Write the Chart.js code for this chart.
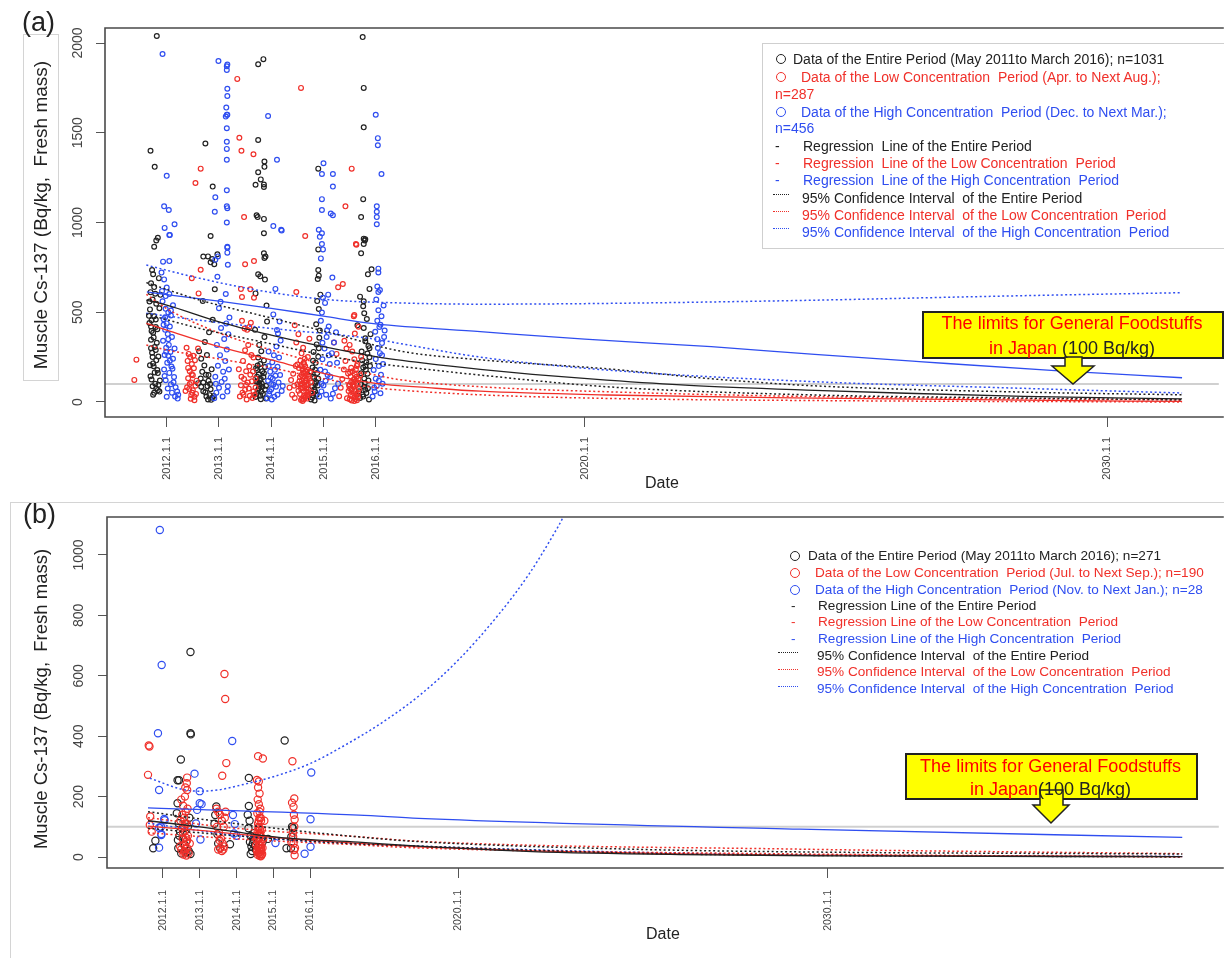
<!DOCTYPE html>
<html>
<head>
<meta charset="utf-8">
<title>Muscle Cs-137</title>
<script src="https://cdn.jsdelivr.net/npm/chart.js@4.4.1/dist/chart.umd.min.js"></script>
<style>
  body { margin:0; width:1224px; height:958px; overflow:hidden; background:#fff; position:relative;
         font-family:"Liberation Sans", Arial, sans-serif; color:#222; }
  .abs { position:absolute; white-space:pre; }
  canvas { position:absolute; left:0; }
  #chartA { top:0; }
  #chartB { top:490px; }
  .tag { font-size:27px; line-height:27px; }
  .ytitle { transform:translate(-50%,-50%) rotate(-90deg); line-height:20px; }
  .circ { width:8px; height:8px; border:1.3px solid; border-radius:50%; }
  .dot { height:0; border-top:1px dotted; }
  .la { font-size:14px; line-height:16px; }
  .lb { font-size:13.6px; line-height:16px; }
  .red { color:#f0302a; }
  .blue { color:#2f4ef0; }
  .callout { background:#ffff00; border:2px solid #222; box-sizing:border-box; }
  .ctext { font-size:18px; line-height:20px; text-align:center; color:#f00; }
  .ctext b { font-weight:normal; color:#222; }
</style>
</head>
<body>

<!-- frames that sit behind the charts -->
<div class="abs" style="left:23px;top:34px;width:34px;height:345px;border:1px solid #d4d4d4"></div>
<div class="abs" style="left:10px;top:502px;width:1230px;height:470px;border:1px solid #d4d4d4"></div>

<canvas id="chartA" width="1224" height="500"></canvas>
<canvas id="chartB" width="1224" height="468"></canvas>

<div class="abs tag" style="left:22px;top:9px">(a)</div>
<div class="abs tag" style="left:23px;top:501px">(b)</div>
<div class="abs ytitle" style="left:41px;top:215px;font-size:19px">Muscle Cs-137 (Bq/kg,  Fresh mass)</div>
<div class="abs ytitle" style="left:41px;top:699px;font-size:18.5px">Muscle Cs-137 (Bq/kg,  Fresh mass)</div>

<!-- legend (a) -->
<div class="abs" style="left:762px;top:43px;width:470px;height:204px;border:1px solid #cfcfcf"></div>
<span class="abs circ" style="left:776px;top:54px;border-color:#222"></span>
<div class="abs la" style="left:793px;top:51px">Data of the Entire Period (May 2011to March 2016); n=1031</div>
<span class="abs circ" style="left:776px;top:72px;border-color:#f0302a"></span>
<div class="abs la red" style="left:801px;top:69px">Data of the Low Concentration  Period (Apr. to Next Aug.);</div>
<div class="abs la red" style="left:775px;top:86px">n=287</div>
<span class="abs circ" style="left:776px;top:107px;border-color:#2f4ef0"></span>
<div class="abs la blue" style="left:801px;top:104px">Data of the High Concentration  Period (Dec. to Next Mar.);</div>
<div class="abs la blue" style="left:775px;top:120px">n=456</div>
<div class="abs la" style="left:775px;top:138px">-</div>
<div class="abs la" style="left:803px;top:138px">Regression  Line of the Entire Period</div>
<div class="abs la red" style="left:775px;top:155px">-</div>
<div class="abs la red" style="left:803px;top:155px">Regression  Line of the Low Concentration  Period</div>
<div class="abs la blue" style="left:775px;top:172px">-</div>
<div class="abs la blue" style="left:803px;top:172px">Regression  Line of the High Concentration  Period</div>
<span class="abs dot" style="left:773px;top:194px;width:16px;border-color:#222"></span>
<div class="abs la" style="left:802px;top:190px">95% Confidence Interval  of the Entire Period</div>
<span class="abs dot" style="left:773px;top:211px;width:16px;border-color:#f0302a"></span>
<div class="abs la red" style="left:802px;top:207px">95% Confidence Interval  of the Low Concentration  Period</div>
<span class="abs dot" style="left:773px;top:228px;width:16px;border-color:#2f4ef0"></span>
<div class="abs la blue" style="left:802px;top:224px">95% Confidence Interval  of the High Concentration  Period</div>

<!-- legend (b) -->
<span class="abs circ" style="left:790px;top:551px;border-color:#222"></span>
<div class="abs lb" style="left:808px;top:548px">Data of the Entire Period (May 2011to March 2016); n=271</div>
<span class="abs circ" style="left:790px;top:568px;border-color:#f0302a"></span>
<div class="abs lb red" style="left:815px;top:565px">Data of the Low Concentration  Period (Jul. to Next Sep.); n=190</div>
<span class="abs circ" style="left:790px;top:585px;border-color:#2f4ef0"></span>
<div class="abs lb blue" style="left:815px;top:582px">Data of the High Concentration  Period (Nov. to Next Jan.); n=28</div>
<div class="abs lb" style="left:791px;top:598px">-</div>
<div class="abs lb" style="left:818px;top:598px">Regression Line of the Entire Period</div>
<div class="abs lb red" style="left:791px;top:614px">-</div>
<div class="abs lb red" style="left:818px;top:614px">Regression Line of the Low Concentration  Period</div>
<div class="abs lb blue" style="left:791px;top:631px">-</div>
<div class="abs lb blue" style="left:818px;top:631px">Regression Line of the High Concentration  Period</div>
<span class="abs dot" style="left:778px;top:652px;width:20px;border-color:#222"></span>
<div class="abs lb" style="left:817px;top:648px">95% Confidence Interval  of the Entire Period</div>
<span class="abs dot" style="left:778px;top:669px;width:20px;border-color:#f0302a"></span>
<div class="abs lb red" style="left:817px;top:664px">95% Confidence Interval  of the Low Concentration  Period</div>
<span class="abs dot" style="left:778px;top:686px;width:20px;border-color:#2f4ef0"></span>
<div class="abs lb blue" style="left:817px;top:681px">95% Confidence Interval  of the High Concentration  Period</div>

<!-- callouts -->
<div class="abs callout" style="left:922px;top:311px;width:302px;height:48px"></div>
<div class="abs callout" style="left:905px;top:753px;width:293px;height:47px"></div>
<svg class="abs" style="left:0;top:0" width="1224" height="958">
  <polygon points="1065,357 1082,357 1082,366 1094,366 1073,384 1052,366 1065,366" fill="#ffff00" stroke="#222" stroke-width="1.5"/>
  <polygon points="1040,790 1063,790 1063,805 1069,805 1051,823 1033,805 1040,805" fill="#ffff00" stroke="#222" stroke-width="1.5"/>
</svg>
<div class="abs ctext" style="left:922px;top:313px;width:300px">The limits for General Foodstuffs</div>
<div class="abs ctext" style="left:922px;top:338px;width:300px">in Japan <b>(100 Bq/kg)</b></div>
<div class="abs ctext" style="left:905px;top:756px;width:291px">The limits for General Foodstuffs</div>
<div class="abs ctext" style="left:905px;top:779px;width:291px">in Japan<b>(100 Bq/kg)</b></div>

<script>
const FONT = '"Liberation Sans", Arial, sans-serif';
const BLACK = '#222222';
const RED = '#f0302a';
const BLUE = '#2f4ef0';

// axis ticks
const tickYears = [2012, 2013, 2014, 2015, 2016, 2020, 2030];
const yTicksA = [0, 500, 1000, 1500, 2000];
const yTicksB = [0, 200, 400, 600, 800, 1000];
const limitValue = 100;

// ---------- panel (a): [decimal year, Bq/kg] ----------
const aEntirePts = [
  [2011.81,2039],[2013.75,1882],[2013.85,1910],[2015.75,2033],[2015.77,1750],[2015.77,1530],[2013.75,1460],[2012.74,1440],
  [2011.69,1400],[2013.87,1340],[2013.87,1310],[2011.77,1310],[2014.9,1300],[2013.75,1280],[2013.8,1240],[2013.7,1210],
  [2013.86,1212],[2013.86,1198],[2012.88,1200],[2015.76,1130],[2013.72,1040],[2013.74,1030],[2013.86,1020],[2015.72,1030],
  [2012.84,925],[2013.86,940],[2011.83,915],[2011.8,900],[2011.76,865],[2015.77,910],[2015.79,900],[2015.77,880],[2014.9,850],
  [2012.7,810],[2012.79,811],[2012.84,778],[2012.87,797],[2012.91,767],[2012.97,823],[2013.86,828],[2013.89,810],[2013.87,802],
  [2013.75,711],[2013.79,700],[2013.88,682],[2013.7,605],[2013.91,537],[2014.9,735],[2014.91,704],[2014.89,685],[2015.72,828],
  [2015.8,906],[2015.85,711],[2015.92,739],[2015.88,630],[2015.7,587],[2015.77,561],[2015.76,533],[2015.78,494],[2015.65,427],
  [2015.8,355],
  [2011.72,735],[2011.74,712],[2011.7,661],[2011.78,603],[2011.73,571],[2011.8,548],[2011.68,516],[2011.76,478],[2011.71,455],
  [2011.79,418],[2011.74,386],[2011.7,347],[2011.77,306],[2011.72,274],[2011.8,232],[2011.75,199],[2011.69,143],[2011.78,102],
  [2011.73,88],[2011.83,66],[2011.76,51],[2011.82,178],[2011.86,522],[2011.88,597],[2011.71,396],[2011.84,253],[2011.69,612],
  [2011.83,161],[2011.67,440],[2011.81,330],[2011.74,215],[2011.87,120],
  [2011.66,480],[2011.7,420],[2011.75,360],[2011.79,290],[2011.73,250],[2011.68,205],[2011.77,165],[2011.71,125],[2011.84,95],
  [2011.8,75],[2011.74,40],[2011.86,58],[2011.7,300],[2011.82,405],[2011.67,560],[2011.76,640],[2011.85,690],[2011.79,460],
  [2012.62,283],[2012.66,241],[2012.72,203],[2012.68,168],[2012.75,152],[2012.8,118],[2012.7,109],[2012.78,88],[2012.84,71],
  [2012.74,54],[2012.82,38],[2012.87,24],[2012.79,14],[2012.9,33],[2012.65,131],[2012.86,182],[2012.77,262],[2012.73,334],
  [2012.81,388],[2012.88,458],[2012.69,563],[2012.92,628],[2012.6,105],[2012.85,12],
  [2012.7,60],[2012.76,30],[2012.83,100],[2012.66,85],[2012.8,150],
  [2013.7,28],[2013.74,62],[2013.78,91],[2013.72,113],[2013.8,128],[2013.76,153],[2013.83,171],[2013.71,188],[2013.79,212],
  [2013.86,231],[2013.75,248],[2013.82,101],[2013.88,69],[2013.84,44],[2013.9,19],[2013.73,178],[2013.81,283],[2013.77,318],
  [2013.87,362],[2013.69,402],[2013.92,448],[2013.85,139],[2013.78,121],[2013.74,203],[2013.8,15],[2013.76,75],
  [2013.72,45],[2013.77,100],[2013.83,85],[2013.86,160],[2013.79,35],[2013.73,140],[2013.88,195],[2013.81,58],[2013.75,112],
  [2013.9,90],
  [2014.76,14],[2014.8,36],[2014.84,58],[2014.78,86],[2014.86,112],[2014.82,133],[2014.88,161],[2014.79,192],[2014.85,218],
  [2014.9,252],[2014.81,279],[2014.87,321],[2014.92,358],[2014.77,47],[2014.83,9],[2014.89,92],[2014.93,398],[2014.86,433],
  [2014.91,518],[2014.88,562],[2014.94,598],[2014.84,180],[2014.8,140],
  [2014.78,25],[2014.82,70],[2014.87,40],[2014.84,100],[2014.9,130],[2014.8,230],[2014.76,170],[2014.91,300],
  [2015.7,22],[2015.75,41],[2015.8,68],[2015.72,99],[2015.78,131],[2015.84,158],[2015.76,192],[2015.82,221],[2015.88,249],
  [2015.73,281],[2015.86,312],[2015.8,338],[2015.9,378],[2015.77,412],[2015.83,462],[2015.87,14],[2015.79,106],[2015.85,77],
  [2015.74,232],[2015.81,179],[2015.68,60],[2015.89,200],
  [2015.76,30],[2015.82,50],[2015.86,120],[2015.78,85],[2015.84,270],[2015.88,300],[2015.72,160],[2015.8,200]
];

const aLowPts = [
  [2013.35,1800],[2014.57,1750],[2013.39,1472],[2013.43,1400],[2013.66,1380],[2012.65,1300],[2012.55,1220],[2015.54,1300],
  [2015.42,1090],[2013.48,1030],[2014.65,925],[2015.62,880],[2012.48,689],[2012.61,605],[2013.5,767],[2013.67,785],
  [2012.65,737],[2013.67,581],[2013.42,630],[2013.6,628],[2013.44,585],[2014.48,613],[2015.28,639],[2015.37,657],
  [2015.63,876],[2015.59,485],[2011.42,236],[2011.38,123],
  [2012.38,302],[2012.42,268],[2012.45,251],[2012.4,229],[2012.48,212],[2012.52,188],[2012.44,171],[2012.5,149],[2012.41,132],
  [2012.47,108],[2012.55,91],[2012.43,72],[2012.49,51],[2012.53,29],[2012.46,18],[2012.39,82],[2012.51,258],[2012.57,119],
  [2012.6,298],[2012.36,61],[2012.54,233],[2012.47,39],
  [2012.44,100],[2012.5,65],[2012.56,45],[2012.41,190],[2012.48,155],[2012.53,10],
  [2013.4,31],[2013.45,52],[2013.5,68],[2013.42,93],[2013.55,109],[2013.48,128],[2013.6,152],[2013.52,171],[2013.58,198],
  [2013.46,229],[2013.62,262],[2013.5,288],[2013.56,318],[2013.64,22],[2013.68,41],[2013.66,59],[2013.7,81],[2013.54,402],
  [2013.58,418],[2013.61,441],[2013.49,409],[2013.44,452],[2013.66,248],[2013.38,182],[2013.7,131],[2013.53,14],
  [2013.47,40],[2013.52,95],[2013.57,75],[2013.63,115],[2013.59,35],[2013.65,170],[2013.43,140],
  [2014.35,80],[2014.38,122],[2014.4,41],[2014.42,158],[2014.45,22],[2014.47,201],[2014.5,99],[2014.52,62],[2014.55,139],
  [2014.57,11],[2014.6,181],[2014.62,219],[2014.64,88],[2014.66,31],[2014.68,129],[2014.7,251],[2014.72,72],[2014.74,168],
  [2014.76,109],[2014.78,52],[2014.58,271],[2014.61,302],[2014.63,161],[2014.65,199],[2014.67,58],[2014.59,102],[2014.69,19],
  [2014.56,231],[2014.71,141],[2014.53,189],[2014.62,14],[2014.66,118],[2014.6,79],[2014.64,241],[2014.7,39],[2014.58,151],
  [2014.48,332],[2014.52,378],[2014.45,428],[2014.73,352],[2014.44,91],[2014.5,209],
  [2014.55,45],[2014.57,75],[2014.59,120],[2014.61,165],[2014.63,210],[2014.65,25],[2014.67,95],[2014.69,180],[2014.71,55],
  [2014.73,130],[2014.6,5],[2014.62,60],[2014.64,110],[2014.66,150],[2014.68,40],[2014.58,200],[2014.56,90],[2014.7,100],
  [2014.63,35],[2014.61,140],[2014.59,18],[2014.67,75],[2014.65,170],[2014.54,115],
  [2015.3,32],[2015.33,79],[2015.36,128],[2015.39,181],[2015.42,229],[2015.45,21],[2015.48,61],[2015.5,98],[2015.52,142],
  [2015.54,9],[2015.56,171],[2015.58,49],[2015.6,91],[2015.62,119],[2015.64,201],[2015.66,28],[2015.68,72],[2015.7,148],
  [2015.72,252],[2015.55,281],[2015.5,318],[2015.57,111],[2015.61,16],[2015.53,191],[2015.59,238],[2015.47,159],[2015.63,42],
  [2015.51,74],[2015.65,102],[2015.44,298],[2015.6,381],[2015.4,341],[2015.67,419],[2015.58,478],[2015.25,268],[2015.2,331],
  [2015.5,15],[2015.52,40],[2015.54,70],[2015.56,95],[2015.58,125],[2015.6,155],[2015.62,180],[2015.64,10],[2015.66,50],
  [2015.55,35],[2015.57,85],[2015.59,5],[2015.61,60],[2015.63,140],[2015.53,110],[2015.51,165],[2015.65,210],[2015.67,130],
  [2015.49,90],[2015.6,25]
];

const aHighPts = [
  [2011.92,1939],[2012.99,1900],[2013.16,1880],[2013.15,1870],[2013.15,1850],[2013.16,1745],[2013.16,1705],[2013.14,1640],
  [2013.13,1590],[2013.15,1600],[2013.16,1600],[2013.94,1593],[2016.0,1600],[2013.15,1525],[2016.04,1470],[2016.04,1430],
  [2013.15,1450],[2013.15,1410],[2013.15,1350],[2014.11,1350],[2012.0,1260],[2015.0,1330],[2014.97,1270],[2015.18,1270],
  [2016.11,1270],[2013.15,1180],[2015.18,1200],[2012.93,1140],[2014.97,1130],[2013.15,1090],[2013.16,1080],[2016.02,1090],
  [2016.02,1060],[2016.02,1030],[2011.95,1090],[2012.04,1070],[2012.92,1060],[2014.97,1070],[2015.14,1050],[2015.18,1040],
  [2016.02,990],[2013.15,1000],[2012.15,990],[2011.96,970],[2012.05,930],[2014.04,980],[2014.19,960],[2014.91,960],
  [2014.97,940],[2014.97,880],[2013.16,860],[2012.06,930],
  [2011.93,782],[2012.05,785],[2012.93,792],[2012.98,811],[2013.16,832],[2013.16,865],[2013.17,765],[2014.2,955],[2014.08,630],
  [2014.95,800],[2014.99,850],[2014.93,920],[2015.17,693],[2016.05,743],[2016.05,722],[2016.03,643],[2016.05,613],[2016.08,624],
  [2011.9,721],[2011.95,683],[2012.0,638],[2012.05,602],[2011.92,561],[2011.98,519],[2012.03,498],[2012.08,482],[2011.94,461],
  [2012.0,438],[2012.06,421],[2011.97,402],[2012.02,379],[2012.1,362],[2011.93,341],[2012.04,318],[2011.99,302],[2012.07,279],
  [2011.96,262],[2012.12,241],[2012.01,219],[2012.09,198],[2011.95,181],[2012.05,162],[2012.14,139],[2011.98,121],[2012.08,99],
  [2012.17,82],[2012.2,58],[2012.22,41],[2012.21,19],[2012.1,52],[2012.0,29],[2011.91,618],[2012.12,539],[2012.03,258],
  [2012.15,298],[2011.97,472],
  [2011.94,430],[2012.03,350],[2011.99,280],[2012.06,230],[2012.11,185],[2011.96,145],[2012.13,110],[2012.02,75],[2012.16,30],
  [2011.98,590],[2012.08,510],
  [2012.91,21],[2012.95,52],[2013.0,79],[2013.05,112],[2012.93,141],[2013.08,169],[2012.98,202],[2013.12,228],[2013.02,261],
  [2013.15,292],[2012.96,318],[2013.1,351],[2013.18,378],[2013.04,412],[2013.14,438],[2013.2,471],[2013.07,31],[2013.16,58],
  [2012.94,101],[2013.11,129],[2013.19,181],[2013.0,522],[2013.03,558],[2013.13,602],[2013.17,88],[2012.97,698],
  [2013.92,21],[2013.96,44],[2014.0,71],[2014.04,96],[2013.94,118],[2014.08,146],[2013.98,169],[2014.12,196],[2014.02,222],
  [2014.15,248],[2013.95,281],[2014.1,309],[2014.18,342],[2014.06,29],[2014.2,61],[2014.14,108],[2013.99,136],[2014.07,179],
  [2014.22,89],[2014.01,14],[2014.11,401],[2014.16,449],[2014.04,488],[2014.13,382],
  [2013.97,60],[2014.03,130],[2014.09,85],[2013.95,200],[2014.12,40],[2014.05,260],[2014.17,150],[2014.0,100],
  [2014.92,31],[2014.96,59],[2015.0,92],[2015.04,118],[2015.08,151],[2014.94,179],[2015.12,211],[2014.98,238],[2015.16,272],
  [2015.02,298],[2015.2,331],[2015.06,362],[2015.24,388],[2015.1,421],[2014.95,452],[2015.14,19],[2015.18,46],[2015.22,76],
  [2015.28,101],[2015.26,219],[2014.97,498],[2015.03,552],[2015.09,598],[2014.99,581],
  [2014.96,100],[2015.03,170],[2015.1,260],[2015.05,40],[2014.98,330],[2015.13,140],[2015.07,400],
  [2015.94,31],[2015.98,59],[2016.02,91],[2016.06,118],[2016.1,152],[2015.96,178],[2016.14,211],[2016.0,239],[2016.08,272],
  [2016.04,301],[2016.12,328],[2016.16,362],[2015.99,391],[2016.07,418],[2016.03,452],[2016.11,478],[2016.05,511],[2016.15,538],
  [2016.01,571],[2016.09,49],[2016.13,102],[2016.17,398],
  [2016.0,130],[2016.06,200],[2016.12,260],[2016.03,350],[2016.09,430],[2015.97,80]
];

// regression lines and 95% CI
const aEntireFit   = [[2011.61,568],[2012,540],[2013,447],[2014,373],[2015,308],[2016,253],[2017,214],[2018,182],[2019,154],[2020.42,122],[2022,93],[2024.4,65],[2026,50],[2028.4,31],[2031.43,17]];
const aEntireUpper = [[2011.61,665],[2012.63,568],[2013.9,475],[2015.17,383],[2016.44,285],[2018,235],[2020.42,185],[2022.4,130],[2024.4,90],[2028.4,55],[2031.43,40]];
const aEntireLower = [[2011.61,490],[2012.63,410],[2013.9,330],[2014.53,290],[2015.5,235],[2016.44,200],[2018,150],[2020.42,85],[2024.4,39],[2028.4,22],[2031.43,12]];
const aLowFit      = [[2011.61,438],[2012,401],[2013,308],[2014,234],[2015,160],[2016,104],[2017,80],[2018,60],[2020.42,39],[2024.4,22],[2028.4,10],[2031.43,3]];
const aLowUpper    = [[2011.61,600],[2012,520],[2013,385],[2014,290],[2015,210],[2016,150],[2016.44,125],[2018,85],[2020.42,57],[2024.4,30],[2031.43,11]];
const aLowLower    = [[2011.61,318],[2012,290],[2013,240],[2014,190],[2015,130],[2016,80],[2016.44,67],[2018,40],[2020.42,20],[2024.4,8],[2031.43,0]];
const aHighFit     = [[2011.62,613],[2012,598],[2013,562],[2014,522],[2015,478],[2016,435],[2018,392],[2020,350],[2022.42,308],[2024.4,265],[2026.4,225],[2029,175],[2031.43,135]];
const aHighUpper   = [[2011.61,763],[2012.63,689],[2013.9,615],[2015.17,568],[2016.44,552],[2018,545],[2020,548],[2024,565],[2028,590],[2031.43,609]];
const aHighLower   = [[2011.61,495],[2012.5,460],[2014,410],[2016,350],[2016.44,327],[2018,250],[2020.42,178],[2024.4,113],[2028.4,76],[2031.43,50]];

// ---------- panel (b) ----------
const bEntirePts = [
  [2012.75,679],[2012.75,410],[2012.76,406],[2012.49,323],[2012.4,254],[2012.44,254],[2014.33,262],[2015.3,386],
  [2011.8,54],[2011.74,29],[2012.4,178],[2012.38,145],[2012.43,112],[2012.47,84],[2012.41,56],[2012.42,29],[2012.5,12],
  [2012.55,60],[2012.6,40],[2012.7,20],[2012.75,10],[2012.68,100],[2012.72,130],[2013.45,167],[2013.42,139],[2013.4,110],
  [2013.48,75],[2013.5,45],[2013.55,30],[2013.82,42],[2014.33,169],[2014.3,140],[2014.35,120],[2014.32,95],[2014.38,70],
  [2014.36,50],[2014.4,35],[2014.42,20],[2014.45,60],[2014.48,80],[2014.5,40],[2014.52,25],[2015.47,29],[2015.5,100],
  [2015.48,67],[2015.35,29],[2015.52,95],[2014.7,50],[2014.85,60],
  [2014.38,10],[2014.44,45],[2012.45,70],[2012.64,15]
];
const bLowPts = [
  [2011.62,369],[2011.64,366],[2011.6,272],[2011.66,134],[2011.65,106],[2011.7,84],[2012.66,263],[2012.65,244],[2012.66,222],
  [2012.6,200],[2013.69,523],[2013.67,606],[2013.72,311],[2013.61,269],[2014.58,334],[2014.71,326],[2015.51,317],[2015.56,194],
  [2015.5,180],[2015.54,166],[2015.57,124],[2015.56,100],[2015.53,67],[2015.54,45],[2015.56,23],[2015.57,6],[2015.52,80],
  [2015.55,140],[2015.48,50],[2015.58,30],
  [2012.5,190],[2012.55,170],[2012.62,150],[2012.58,130],[2012.65,110],[2012.52,95],[2012.6,85],[2012.68,70],[2012.54,60],
  [2012.63,50],[2012.57,40],[2012.66,30],[2012.5,25],[2012.6,18],[2012.7,12],[2012.56,8],[2012.64,5],[2012.47,35],[2012.73,45],
  [2012.62,65],[2012.58,100],[2012.53,140],[2012.67,160],[2012.48,120],[2012.61,230],
  [2012.58,15],[2012.62,28],[2012.66,55],[2012.55,80],[2012.6,110],
  [2013.45,160],[2013.5,150],[2013.55,140],[2013.6,120],[2013.65,100],[2013.52,80],[2013.58,60],[2013.62,45],[2013.56,30],
  [2013.5,25],[2013.6,20],[2013.66,35],[2013.7,150],[2013.68,130],[2013.47,100],[2013.54,55],[2013.64,25],
  [2014.55,255],[2014.6,250],[2014.58,230],[2014.62,210],[2014.57,190],[2014.6,175],[2014.64,160],[2014.56,145],[2014.62,130],
  [2014.66,120],[2014.58,110],[2014.6,100],[2014.63,92],[2014.57,85],[2014.61,78],[2014.65,70],[2014.59,63],[2014.55,56],
  [2014.62,50],[2014.67,44],[2014.6,38],[2014.58,32],[2014.64,27],[2014.61,22],[2014.66,18],[2014.6,14],[2014.63,10],
  [2014.57,7],[2014.62,4],[2014.65,2],[2014.7,30],[2014.72,60],[2014.68,90],[2014.53,40],[2014.5,70],[2014.75,120],
  [2014.65,130],[2014.55,20],[2014.69,10],
  [2014.56,65],[2014.64,80],[2014.6,120],[2014.66,30],[2014.58,15],[2014.62,150],[2014.6,60],[2014.67,5],[2014.63,40],
  [2014.59,95]
];
const bHighPts = [
  [2011.92,1083],[2011.97,636],[2011.87,410],[2011.9,222],[2012.86,276],[2013.0,218],[2013.05,175],[2012.93,156],[2012.9,111],
  [2013.02,58],[2012.04,126],[2011.9,97],[2011.96,76],[2011.9,31],[2013.88,384],[2013.9,139],[2013.95,109],[2014.0,70],
  [2013.93,78],[2015.05,46],[2016.02,280],[2016.0,125],[2016.0,34],[2015.84,11],[2012.05,122],[2013.0,178],[2011.95,100],
  [2011.96,73]
];

const bEntireFit   = [[2011.6,120],[2013,100],[2015.15,65],[2017.3,49],[2018.93,36],[2022,18],[2026,8],[2030,4],[2039.6,1]];
const bEntireUpper = [[2011.6,150],[2014,110],[2017,70],[2018.93,51],[2025,25],[2030,16],[2039.6,10]];
const bEntireLower = [[2011.6,95],[2014,70],[2017,45],[2018.93,36],[2025,12],[2030,5],[2039.6,1]];
const bLowFit      = [[2011.6,102],[2013,88],[2015,65],[2017.31,45],[2018.93,34],[2022,20],[2026,10],[2030,6],[2039.6,1]];
const bLowUpper    = [[2011.6,130],[2014,95],[2017.31,67],[2018.93,52],[2029.25,26],[2039.6,11]];
const bLowLower    = [[2011.6,80],[2014,60],[2017.31,40],[2018.93,30],[2029.25,10],[2039.6,0]];
const bHighFit     = [[2011.6,163],[2017.31,139],[2018.93,128],[2029.25,92],[2039.6,65]];
const bHighUpper   = [[2011.65,261],[2012.5,225],[2013,218],[2013.5,222],[2014,235],[2015,266],[2016,310],[2017,375],[2018,450],
                      [2019,540],[2020,652],[2021.08,801],[2021.9,934],[2022.57,1066],[2022.84,1126],[2023.2,1230]];
const bHighLower   = [[2011.6,112],[2013.9,73],[2016,52],[2018.93,36],[2025,15],[2030,6],[2039.6,2]];

// ---------- helpers ----------
function pts(list) {
  return list.map(([x, y]) => ({ x, y }));
}

function scatterSet(list, color, radius, order) {
  return {
    type: 'scatter',
    data: pts(list),
    borderColor: color,
    backgroundColor: 'rgba(0,0,0,0)',
    pointRadius: radius,
    pointBorderWidth: 1.2,
    order: order
  };
}

function lineSet(list, color, dotted) {
  return {
    type: 'line',
    data: pts(list),
    borderColor: color,
    borderWidth: dotted ? 1.5 : 1.3,
    borderDash: dotted ? [2, 2.5] : [],
    pointRadius: 0,
    fill: false,
    cubicInterpolationMode: 'monotone',
    order: 0
  };
}

// grey 100 Bq/kg line, plot frame and rotated y labels
const frame = {
  id: 'frame',
  beforeDatasetsDraw(chart) {
    const { ctx, chartArea: ca, scales: { y } } = chart;
    const py = y.getPixelForValue(limitValue);
    ctx.save();
    ctx.strokeStyle = '#d0d0d0';
    ctx.lineWidth = 2;
    ctx.beginPath();
    ctx.moveTo(ca.left, py);
    ctx.lineTo(ca.right, py);
    ctx.stroke();
    ctx.restore();
  },
  afterDraw(chart, args, opts) {
    const { ctx, chartArea: ca, scales: { y } } = chart;
    ctx.save();
    ctx.strokeStyle = '#4a4a4a';
    ctx.lineWidth = 1.6;
    ctx.beginPath();
    ctx.moveTo(ca.right + 5, ca.top);
    ctx.lineTo(ca.left, ca.top);
    ctx.lineTo(ca.left, ca.bottom);
    ctx.lineTo(ca.right + 5, ca.bottom);
    ctx.stroke();

    ctx.fillStyle = '#444';
    ctx.font = opts.font;
    ctx.textAlign = 'center';
    ctx.textBaseline = 'middle';
    for (const t of y.ticks) {
      ctx.save();
      ctx.translate(opts.labelX, y.getPixelForValue(t.value));
      ctx.rotate(-Math.PI / 2);
      ctx.fillText(String(t.value), 0, 0);
      ctx.restore();
    }
    ctx.restore();
  }
};

function makeChart(id, cfg) {
  return new Chart(document.getElementById(id), {
    type: 'scatter',
    data: { datasets: cfg.datasets },
    options: {
      responsive: false,
      animation: false,
      events: [],
      layout: { padding: { top: cfg.top, left: 0, right: 0, bottom: 0 } },
      plugins: {
        legend: { display: false },
        tooltip: { enabled: false },
        frame: { font: '14px ' + FONT, labelX: cfg.yLabelX }
      },
      scales: {
        x: {
          type: 'linear',
          min: cfg.xMin,
          max: cfg.xMax,
          afterBuildTicks: s => { s.ticks = tickYears.map(v => ({ value: v })); },
          afterFit: s => { s.height = cfg.xHeight; },
          grid: { drawOnChartArea: false, drawTicks: true, tickLength: 10, color: '#555' },
          border: { display: false },
          ticks: {
            autoSkip: false, minRotation: 90, maxRotation: 90,
            padding: cfg.xPad, color: '#444',
            font: { size: cfg.xFont, family: FONT },
            callback: v => v + '.1.1'
          },
          title: {
            display: true, text: 'Date', color: '#222',
            font: { size: 16, family: FONT, lineHeight: 1 },
            padding: { top: 0, bottom: cfg.titlePad }
          }
        },
        y: {
          min: cfg.yMin,
          max: cfg.yMax,
          afterBuildTicks: s => { s.ticks = cfg.yTicks.map(v => ({ value: v })); },
          afterFit: s => { s.width = cfg.yWidth; },
          grid: { drawOnChartArea: false, drawTicks: true, tickLength: 9, color: '#555' },
          border: { display: false },
          ticks: { display: false }
        }
      }
    },
    plugins: [frame]
  });
}

makeChart('chartA', {
  top: 28, yWidth: 105, xHeight: 83, xPad: 10, xFont: 11, titlePad: 8, yLabelX: 78,
  xMin: 2010.819, xMax: 2032.133, yMin: -83.6, yMax: 2083.6, yTicks: yTicksA,
  datasets: [
    lineSet(aEntireFit, BLACK, false), lineSet(aEntireUpper, BLACK, true), lineSet(aEntireLower, BLACK, true),
    lineSet(aLowFit, RED, false), lineSet(aLowUpper, RED, true), lineSet(aLowLower, RED, true),
    lineSet(aHighFit, BLUE, false), lineSet(aHighUpper, BLUE, true), lineSet(aHighLower, BLUE, true),
    scatterSet(aHighPts, BLUE, 2.4, 1),
    scatterSet(aLowPts, RED, 2.4, 2),
    scatterSet(aEntirePts, BLACK, 2.4, 3)
  ]
});

makeChart('chartB', {
  top: 27, yWidth: 107, xHeight: 90, xPad: 12, xFont: 10.5, titlePad: 15, yLabelX: 79,
  xMin: 2010.49, xMax: 2040.59, yMin: -36.4, yMax: 1125.8, yTicks: yTicksB,
  datasets: [
    lineSet(bEntireFit, BLACK, false), lineSet(bEntireUpper, BLACK, true), lineSet(bEntireLower, BLACK, true),
    lineSet(bLowFit, RED, false), lineSet(bLowUpper, RED, true), lineSet(bLowLower, RED, true),
    lineSet(bHighFit, BLUE, false), lineSet(bHighUpper, BLUE, true), lineSet(bHighLower, BLUE, true),
    scatterSet(bHighPts, BLUE, 3.6, 1),
    scatterSet(bLowPts, RED, 3.6, 2),
    scatterSet(bEntirePts, BLACK, 3.6, 3)
  ]
});
</script>
</body>
</html>
